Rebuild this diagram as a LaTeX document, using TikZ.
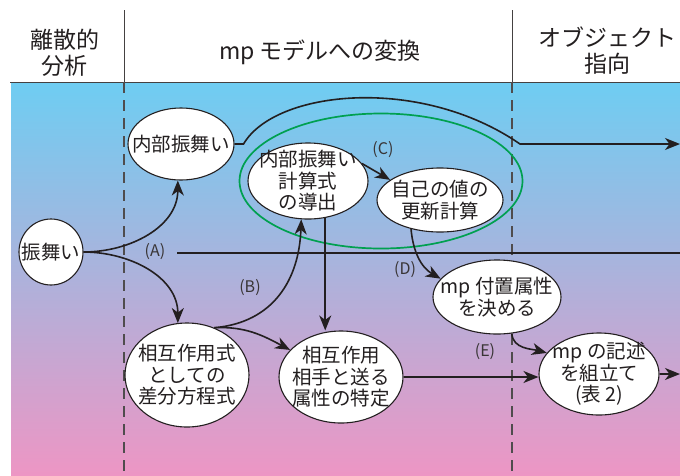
\documentclass[tikz,border=0pt]{standalone}
\usepackage{fontspec}
\setmainfont{Noto Sans CJK JP}
\usetikzlibrary{shapes.geometric,arrows.meta}
\definecolor{gtop}{RGB}{110,205,242}
\definecolor{gmid}{RGB}{182,176,218}
\definecolor{gbot}{RGB}{237,150,196}
\definecolor{txt}{RGB}{35,31,32}
\definecolor{grn}{RGB}{0,160,80}
\tikzset{
  bub/.style={ellipse,draw=txt,fill=white,line width=1.1pt,inner xsep=-40pt,inner ysep=-40pt,align=center,text=txt,
    font=\fontsize{19.5}{21.5}\selectfont},
  head/.style={align=center,text=txt,font=\fontsize{23}{26}\selectfont},
  lab/.style={text=txt!90,font=\fontsize{16}{18}\selectfont,inner sep=0pt},
  arr/.style={line width=1.6pt,draw=txt,-{Stealth[length=15pt,width=12pt,inset=4.5pt]}},
  ln/.style={line width=1.6pt,draw=txt},
  sep/.style={line width=1pt,draw=txt!85},
  dsep/.style={line width=1.1pt,draw=txt!80,dash pattern=on 11pt off 7pt}
}
\begin{document}
\begin{tikzpicture}[x=1pt,y=1pt]
\useasboundingbox (0,-475) rectangle (680,0);
\fill[white] (0,-475) rectangle (680,0);
% background gradient
\shade[top color=gtop,middle color=gmid,bottom color=gbot] (11,-82) rectangle (680,-475);
% header lines
\draw[sep] (10,-82) -- (680,-82);
\draw[sep] (124,-10) -- (124,-82);
\draw[sep] (512,-10) -- (512,-82);
\draw[dsep] (124,-82) -- (124,-475);
\draw[dsep] (512,-82) -- (512,-475);
% header texts
\node[head] (h1) at (65,-53) {離散的\\分析};
\node[head] (h2) at (320,-52) {mp モデルへの変換};
\node[head] (h3) at (607,-51) {オブジェクト\\指向};
% green ellipse
\node[ellipse,draw=grn,line width=1.7pt,minimum width=283pt,minimum height=135pt,inner sep=0pt] (grp) at (381,-181) {};
% nodes
\node[bub,minimum width=64pt,minimum height=66pt] (fu) at (51,-252) {振舞い};
\node[bub,minimum width=106pt,minimum height=72pt] (nb) at (181,-144) {内部振舞い};
\node[bub,minimum width=120pt,minimum height=76pt] (cd) at (308,-181) {内部振舞い\\計算式\\の導出};
\node[bub,minimum width=126pt,minimum height=64pt] (sa) at (440,-200) {自己の値の\\更新計算};
\node[bub,minimum width=128pt,minimum height=74pt] (mf) at (497,-297) {mp 付置属性\\を決める};
\node[bub,minimum width=120pt,minimum height=82pt] (md) at (599,-374) {mp の記述\\を組立て\\(表 2)};
\node[bub,minimum width=124pt,minimum height=104pt] (sg) at (187,-375) {相互作用式\\としての\\差分方程式};
\node[bub,minimum width=124pt,minimum height=92pt] (sp) at (341,-377) {相互作用\\相手と送る\\属性の特定};
% labels
\node[lab] (lA) at (155,-252) {(A)};
\node[lab] (lB) at (250,-288) {(B)};
\node[lab] (lC) at (383,-150) {(C)};
\node[lab] (lD) at (405,-270) {(D)};
\node[lab] (lE) at (485,-352) {(E)};
% free ends
\coordinate (aS) at (177,-253);
\coordinate (aE) at (680,-253);
\coordinate (tE) at (680,-144);
\coordinate (mE) at (680,-374);
% connectors
\draw[arr] (fu.east) to[out=0,in=-90] (nb.-95);
\draw[arr] (fu.east) to[out=0,in=90] (sg.100);
\draw[ln] (aS) -- (aE);
\draw[arr] (nb.east) -- ++(9,0) .. controls (275,-90) and (420,-75) .. (520,-144) -- (tE);
\draw[arr] (sg.60) to[out=5,in=-92,looseness=1.1] (cd.-100);
\draw[arr] (sg.60) to[out=3,in=152] (sp.152);
\draw[arr] (cd.-65) -- (cd.-65 |- sp.north);
\draw[arr] (cd.18) -- (sa.158);
\draw[arr] (sa.-135) to[out=-85,in=150] (mf.162);
\draw[arr] (mf.-68) to[out=-85,in=165] (md.158);
\draw[arr] (sp.east) -- (sp.east -| md.west);
\draw[arr] (md.east) -- (mE);
\end{tikzpicture}
\end{document}
